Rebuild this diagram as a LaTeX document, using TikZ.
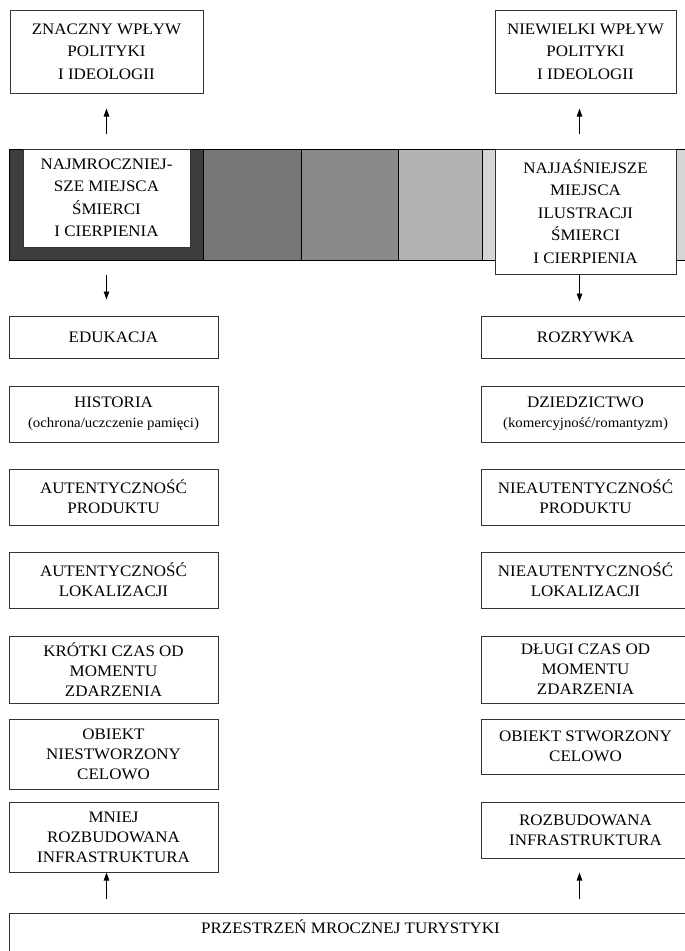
\documentclass[tikz,border=0pt]{standalone}
\usepackage{fontspec}
\setmainfont{Liberation Serif}[FakeStretch=1.06]
\usetikzlibrary{arrows.meta}
\definecolor{shadeA}{HTML}{3D3D3F}
\definecolor{shadeB}{HTML}{77777A}
\definecolor{shadeC}{HTML}{8A8A8D}
\definecolor{shadeD}{HTML}{B2B2B5}
\definecolor{shadeE}{HTML}{D5D5D7}
\newcommand{\subline}[1]{{\fontsize{14}{20}\selectfont #1}}
\tikzset{
	box/.style={draw=black!80, line width=1pt, fill=white, align=center, inner sep=0pt,
		font=\fontsize{16}{22.5}\selectfont},
	lowbox/.style={box, minimum width=209, font=\fontsize{16}{20}\selectfont},
	arr/.style={-{Triangle[length=8pt,width=5.5pt]}, line width=0.8pt}
}

\begin{document}
\begin{tikzpicture}[x=1pt, y=-1pt]
		%%%%% START %%%%%
		\useasboundingbox (0, 0) rectangle (685, 951);
		\clip (0, 0) rectangle (685, 951);
		
		% top boxes
		\node[box, minimum width=193, minimum height=83] (topL) at (106.5, 51.5) {ZNACZNY WPŁYW\\POLITYKI\\I IDEOLOGII};
		\node[box, minimum width=181, minimum height=83] (topR) at (585.5, 51.5) {NIEWIELKI WPŁYW\\POLITYKI\\I IDEOLOGII};
		
		% shaded bar
		\draw[line width=0.8pt, fill=shadeA] (9, 149) rectangle (203, 260);
		\draw[line width=0.8pt, fill=shadeB] (203, 149) rectangle (301, 260);
		\draw[line width=0.8pt, fill=shadeC] (301, 149) rectangle (398, 260);
		\draw[line width=0.8pt, fill=shadeD] (398, 149) rectangle (482, 260);
		\draw[line width=0.8pt, fill=shadeE] (482, 149) rectangle (700, 260);
		
		\node[box, minimum width=167, minimum height=98] (darkL) at (106.5, 198) {NAJMROCZNIEJ-\\SZE MIEJSCA\\ŚMIERCI\\I CIERPIENIA};
		\node[box, minimum width=181, minimum height=125] (lightR) at (585.5, 211.5) {NAJJAŚNIEJSZE\\MIEJSCA\\ILUSTRACJI\\ŚMIERCI\\I CIERPIENIA};
		\coordinate (axR) at ([xshift=-6]lightR.south);
		
		% left column
		\node[lowbox, minimum height=42] (eduL) at (113.5, 337) {EDUKACJA};
		\node[lowbox, minimum height=56] (histL) at (113.5, 414) {HISTORIA\\\subline{(ochrona/uczczenie pamięci)}};
		\node[lowbox, minimum height=56] (prodL) at (113.5, 497) {AUTENTYCZNOŚĆ\\PRODUKTU};
		\node[lowbox, minimum height=56] (lokL) at (113.5, 580) {AUTENTYCZNOŚĆ\\LOKALIZACJI};
		\node[lowbox, minimum height=67] (czasL) at (113.5, 669.5) {KRÓTKI CZAS OD\\MOMENTU\\ZDARZENIA};
		\node[lowbox, minimum height=70] (obL) at (113.5, 754) {OBIEKT\\NIESTWORZONY\\CELOWO};
		\node[lowbox, minimum height=70] (infL) at (113.5, 837) {MNIEJ\\ROZBUDOWANA\\INFRASTRUKTURA};
		
		% right column
		\node[lowbox, minimum height=42] (eduR) at (585.5, 337) {ROZRYWKA};
		\node[lowbox, minimum height=56] (histR) at (585.5, 414) {DZIEDZICTWO\\\subline{(komercyjność/romantyzm)}};
		\node[lowbox, minimum height=56] (prodR) at (585.5, 497) {NIEAUTENTYCZNOŚĆ\\PRODUKTU};
		\node[lowbox, minimum height=56] (lokR) at (585.5, 580) {NIEAUTENTYCZNOŚĆ\\LOKALIZACJI};
		\node[lowbox, minimum height=67] (czasR) at (585.5, 669.5) {DŁUGI CZAS OD\\MOMENTU\\ZDARZENIA};
		\node[lowbox, minimum height=55] (obR) at (585.5, 746.5) {OBIEKT STWORZONY\\CELOWO};
		\node[lowbox, minimum height=56] (infR) at (585.5, 830) {ROZBUDOWANA\\INFRASTRUKTURA};
		
		% bottom box
		\node[box, anchor=north west, minimum width=700, inner ysep=9pt, text height=11pt, text depth=40pt] (base) at (9, 913) {\hspace*{-18pt}PRZESTRZEŃ MROCZNEJ TURYSTYKI};
		
		% arrows
		\draw[arr, shorten <=15pt, shorten >=15pt] (darkL.north) -- (topL.south);
		\draw[arr, shorten <=15pt, shorten >=15pt] (axR |- lightR.north) -- (axR |- topR.south);
		\draw[arr, shorten <=27pt, shorten >=16pt] (darkL.south) -- (darkL.south |- eduL.north);
		\draw[arr, shorten >=14pt] (axR) -- (axR |- eduR.north);
		\draw[arr, shorten <=14pt] (base.north -| darkL.south) -- (infL.south -| darkL.south);
		\draw[arr, shorten <=14pt, shorten >=14pt] (base.north -| axR) -- (axR |- infR.south);
		
		%%%%% END %%%%%
	\end{tikzpicture}
\end{document}
